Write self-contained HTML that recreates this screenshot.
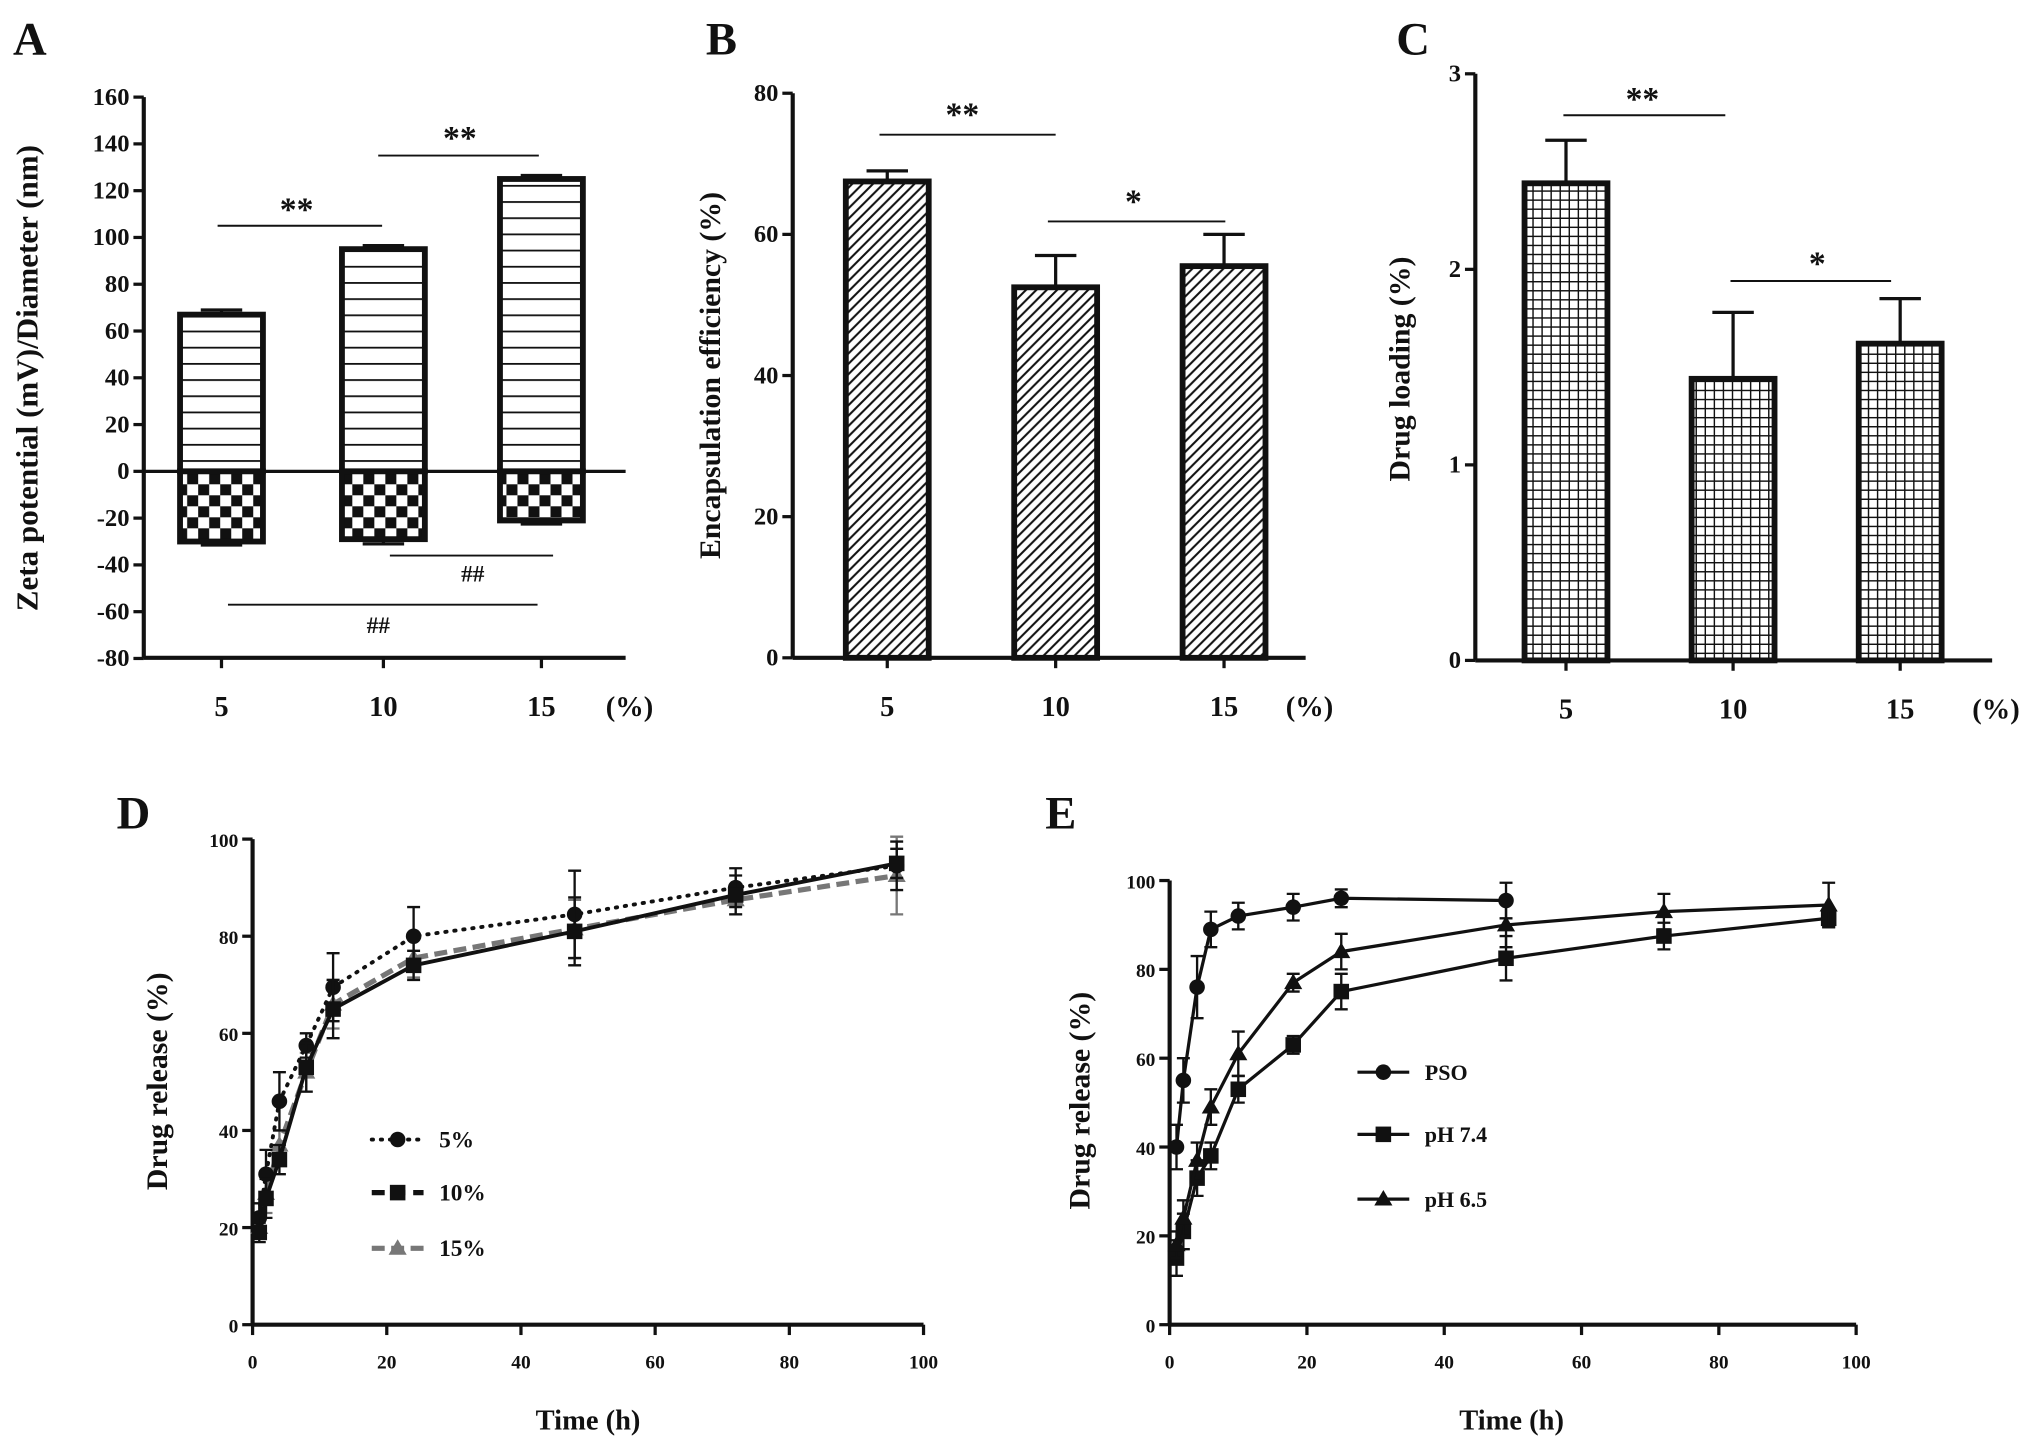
<!DOCTYPE html>
<html><head><meta charset="utf-8"><style>
html,body{margin:0;padding:0;background:#fff;}
svg{display:block;}
text{font-family:"Liberation Serif",serif;font-weight:bold;fill:#111;}
</style></head><body>
<svg id="fig" width="2031" height="1449" viewBox="0 0 1568 1119" preserveAspectRatio="none" xmlns="http://www.w3.org/2000/svg">
<defs>
<pattern id="hlines" width="10" height="12.5" patternUnits="userSpaceOnUse"><rect width="10" height="12.5" fill="#fff"/><line x1="0" y1="6" x2="10" y2="6" stroke="#111" stroke-width="1.4"/></pattern>
<pattern id="checker" width="17" height="17" patternUnits="userSpaceOnUse"><rect width="17" height="17" fill="#fff"/><rect width="8.5" height="8.5" fill="#111"/><rect x="8.5" y="8.5" width="8.5" height="8.5" fill="#111"/></pattern>
<pattern id="diag" width="8" height="8" patternUnits="userSpaceOnUse"><rect width="8" height="8" fill="#fff"/><path d="M-2,10 L10,-2 M-2,2 L2,-2 M6,10 L10,6" stroke="#111" stroke-width="1.6"/></pattern>
<pattern id="grid" width="7" height="7" patternUnits="userSpaceOnUse"><rect width="7" height="7" fill="#fff"/><path d="M0,0.5 H7 M0.5,0 V7" stroke="#111" stroke-width="1.2"/></pattern>
</defs>
<text x="10" y="42" font-size="36">A</text>
<text x="545" y="42" font-size="36">B</text>
<text x="1078" y="42" font-size="36">C</text>
<text x="90" y="640" font-size="36">D</text>
<text x="807" y="640" font-size="36">E</text>
</svg>
<script>
const NS="http://www.w3.org/2000/svg";
const svg=document.getElementById('fig');
function mk(tag,attrs,parent,txt){const e=document.createElementNS(NS,tag);for(const k in attrs)e.setAttribute(k,attrs[k]);if(txt!==undefined)e.textContent=txt;(parent||svg).appendChild(e);return e;}

// ---------- Data ----------
const barCats=['5','10','15'];
const zetaDiam=[67,95,125];
const zetaDiamErr=[2,1.5,1.5];
const zetaPot=[-30,-29,-21];
const zetaPotErr=[1.5,2,1.5];
const ticksA=[160,140,120,100,80,60,40,20,0,-20,-40,-60,-80];
const encEff=[67.5,52.5,55.5];
const encEffErr=[1.5,4.5,4.5];
const ticksB=[0,20,40,60,80];
const drugLoad=[2.44,1.44,1.62];
const drugLoadErr=[0.22,0.34,0.23];
const ticksC=[0,1,2,3];
const timeD=[1,2,4,8,12,24,48,72,96];
const rel5=[22,31,46,57.5,69.5,80,84.5,90,94.5];
const rel5Err=[3,5,6,2.5,7,6,9,4,5];
const rel10=[19,26,34,53,65,74,81,88.5,95];
const rel10Err=[2,4,3,5,6,3,7,4,3];
const rel15=[20,27,37,52,66,75.5,81.5,87.5,92.5];
const rel15Err=[2,4,3,4,5,4,6,3,8];
const ticksD=[0,20,40,60,80,100];
const timePSO=[1,2,4,6,10,18,25,49];
const relPSO=[40,55,76,89,92,94,96,95.5];
const relPSOErr=[5,5,7,4,3,3,2,4];
const timePH=[1,2,4,6,10,18,25,49,72,96];
const relPH74=[15,21,33,38,53,63,75,82.5,87.5,91.5];
const relPH74Err=[4,4,4,3,3,2,4,5,3,2];
const relPH65=[18,24,37,49,61,77,84,90,93,94.5];
const relPH65Err=[3,4,4,4,5,2,4,5,4,5];

function yaxis(x,y0,y1,v0,v1,ticks,name,fs){
  const sc=v=>y0+(v-v0)*(y1-y0)/(v1-v0);
  const ax=mk('line',{x1:x,y1:sc(Math.min(...ticks)),x2:x,y2:sc(Math.max(...ticks)),stroke:'#111','stroke-width':3.2});
  
  ticks.forEach(t=>{const y=sc(t);
    const l=mk('line',{x1:x-8,y1:y,x2:x,y2:y,stroke:'#111','stroke-width':2.5});
    
    const tx=mk('text',{x:x-11,y:y+6,'font-size':fs||19,'text-anchor':'end'},svg,t);
    });
  return sc;
}
function title(x,y,txt,rot,name,size){
  const t=mk('text',{x:x,y:y,'font-size':size||20,'text-anchor':'middle',transform:rot?`rotate(-90 ${x} ${y})`:''},svg,txt);
  
}
function sig(x1,x2,y,label,ty,tx,name){
  const l=mk('line',{x1:x1,y1:y,x2:x2,y2:y,stroke:'#111','stroke-width':1.5});
  
  const t=mk('text',{x:tx,y:ty,'font-size':label.includes('#')?18:26,'text-anchor':'middle','font-weight':'normal'},svg,label);
  
}
function bar(cx,sc,v,err,fill,name){
  const w=64,y0=sc(0),y=sc(v);
  const top=Math.min(y0,y),h=Math.abs(y0-y);
  const ey=sc(v+(v>=0?err:-err));
  const e=mk('line',{x1:cx,y1:y,x2:cx,y2:ey,stroke:'#111','stroke-width':2.5});
  
  const c=mk('line',{x1:cx-16,y1:ey,x2:cx+16,y2:ey,stroke:'#111','stroke-width':2.5});
  
  const r=mk('rect',{x:cx-w/2,y:top,width:w,height:h,fill:fill,stroke:'#111','stroke-width':4.5});
  
}
function xcat(x0,x1,y,positions,name){
  const ax=mk('line',{x1:x0,y1:y,x2:x1,y2:y,stroke:'#111','stroke-width':3.2});
  
  positions.forEach((px,i)=>{
    const l=mk('line',{x1:px,y1:y,x2:px,y2:y+8,stroke:'#111','stroke-width':2.5});
    
    const t=mk('text',{x:px,y:y+45,'font-size':22,'text-anchor':'middle'},svg,barCats[i]);
    
  });
  const p=mk('text',{x:x1+3,y:y+45,'font-size':22,'text-anchor':'middle'},svg,'(%)');
  
}

// ---------- Panel A ----------
const scA=yaxis(111,364,75,0,160,ticksA,'panel-a');
const posA=[171,296,418];
barCats.forEach((c,i)=>{
  bar(posA[i],scA,zetaDiam[i],zetaDiamErr[i],'url(#hlines)','bar-diameter-'+c);
  bar(posA[i],scA,zetaPot[i],zetaPotErr[i],'url(#checker)','bar-zeta-'+c);
});
const zl=mk('line',{x1:111,y1:scA(0),x2:483,y2:scA(0),stroke:'#111','stroke-width':2.5});

xcat(111,483,508,posA,'panel-a');
title(29,292,'Zeta potential (mV)/Diameter (nm)',true,'panel-a-y-title',24);
sig(168,295,scA(105),'**',scA(105)-4,229,'sig-a-5-10');
sig(292,416,scA(135),'**',scA(135)-5,355,'sig-a-10-15');
sig(301,427,scA(-36),'##',scA(-36)+20,365,'sig-a-hash-10-15');
sig(176,415,scA(-57),'##',scA(-57)+22,292,'sig-a-hash-5-15');

// ---------- Panel B ----------
const scB=yaxis(612,508,72,0,80,ticksB,'panel-b');
const posB=[685,815,945];
barCats.forEach((c,i)=>bar(posB[i],scB,encEff[i],encEffErr[i],'url(#diag)','bar-encapsulation-'+c));
xcat(612,1008,508,posB,'panel-b');
title(556,290,'Encapsulation efficiency (%)',true,'panel-b-y-title',23);
sig(679,815,104,'**',97,743,'sig-b-5-10');
sig(809,946,171,'*',164,875,'sig-b-10-15');

// ---------- Panel C ----------
const scC=yaxis(1139,510,57,0,3,ticksC,'panel-c');
const posC=[1209,1338,1467];
barCats.forEach((c,i)=>bar(posC[i],scC,drugLoad[i],drugLoadErr[i],'url(#grid)','bar-drug-loading-'+c));
xcat(1139,1538,510,posC,'panel-c');
title(1088,285,'Drug loading (%)',true,'panel-c-y-title',23);
sig(1207,1332,89,'**',85,1268,'sig-c-5-10');
sig(1336,1460,217,'*',212,1403,'sig-c-10-15');

// ---------- Line panels ----------
function linePanel(x0,x1,y0,y1,name){
  const sx=v=>x0+v*(x1-x0)/100;
  const sy=yaxis(x0,y0,y1,0,100,ticksD,name,15);
  const ax=mk('line',{x1:x0,y1:y0,x2:x1,y2:y0,stroke:'#111','stroke-width':3.2});
  
  ticksD.forEach(t=>{
    const l=mk('line',{x1:sx(t),y1:y0,x2:sx(t),y2:y0+8,stroke:'#111','stroke-width':2.5});
    
    const tx=mk('text',{x:sx(t),y:y0+34,'font-size':15,'text-anchor':'middle'},svg,t);
    
  });
  return [sx,sy];
}
function series(sx,sy,xs,ys,errs,opt,name){
  const g=mk('g',{});
  xs.forEach((x,i)=>{
    const X=sx(x),a=sy(ys[i]+errs[i]),b=sy(ys[i]-errs[i]);
    const e=mk('path',{d:`M${X},${a}V${b}M${X-5},${a}H${X+5}M${X-5},${b}H${X+5}`,stroke:opt.color,'stroke-width':1.8,fill:'none'},g);
    
  });
  const pl=mk('polyline',{points:xs.map((x,i)=>sx(x)+','+sy(ys[i])).join(' '),fill:'none',stroke:opt.color,'stroke-width':opt.w,'stroke-dasharray':opt.dash||'', 'stroke-linecap':opt.cap||'butt'},g);
  
  xs.forEach((x,i)=>{const m=marker(sx(x),sy(ys[i]),opt.m,opt.color,g);
    });
}
function marker(x,y,type,color,g){
  if(type==='c')return mk('circle',{cx:x,cy:y,r:6,fill:color},g);
  if(type==='s')return mk('rect',{x:x-6,y:y-6,width:12,height:12,fill:color},g);
  return mk('polygon',{points:`${x},${y-7} ${x-7},${y+5} ${x+7},${y+5}`,fill:color},g);
}
function legend(x,y,opt,label,name,fs){
  const g=mk('g',{});
  mk('line',{x1:x,y1:y,x2:x+40,y2:y,stroke:opt.color,'stroke-width':opt.w,'stroke-dasharray':opt.dash||'','stroke-linecap':opt.cap||'butt'},g);
  marker(x+20,y,opt.m,opt.color,g);
  mk('text',{x:x+52,y:y+6,'font-size':fs||17},g,label);
}

// Panel D
const [sxD,syD]=linePanel(195,713,1023,648,'panel-d');
title(454,1104,'Time (h)',false,'panel-d-x-title',22);
title(129,835,'Drug release (%)',true,'panel-d-y-title',23);
const o5={color:'#111',w:3,dash:'1 6',cap:'round',m:'c'};
const o10={color:'#111',w:3,m:'s'};
const o15={color:'#777',w:4,dash:'10 5',m:'t'};
series(sxD,syD,timeD,rel15,rel15Err,o15,'series-15pct');
series(sxD,syD,timeD,rel5,rel5Err,o5,'series-5pct');
series(sxD,syD,timeD,rel10,rel10Err,o10,'series-10pct');
legend(287,880,o5,'5%','legend-5pct',18);
legend(287,921,{color:'#111',w:4,dash:'10 6',m:'s'},'10%','legend-10pct',18);
legend(287,964,o15,'15%','legend-15pct',18);

// Panel E
const [sxE,syE]=linePanel(903,1433,1023,680,'panel-e');
title(1167,1104,'Time (h)',false,'panel-e-x-title',22);
title(841,850,'Drug release (%)',true,'panel-e-y-title',23);
const oP={color:'#111',w:2.5,m:'c'},o74={color:'#111',w:2.5,m:'s'},o65={color:'#111',w:2.5,m:'t'};
series(sxE,syE,timePH,relPH74,relPH74Err,o74,'series-ph74');
series(sxE,syE,timePH,relPH65,relPH65Err,o65,'series-ph65');
series(sxE,syE,timePSO,relPSO,relPSOErr,oP,'series-pso');
legend(1048,828,oP,'PSO','legend-pso');
legend(1048,876,o74,'pH 7.4','legend-ph74');
legend(1048,926,o65,'pH 6.5','legend-ph65');
</script>
</body></html>
